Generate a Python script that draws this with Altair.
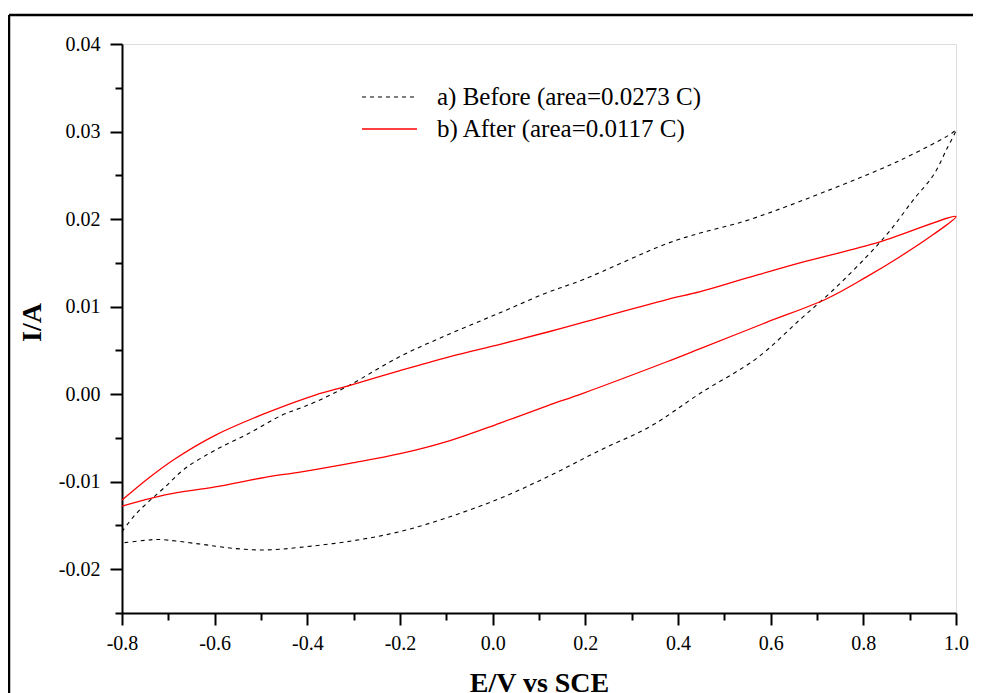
import altair as alt
import pandas as pd

# ---- data ----
before_E = [-0.80, -0.772, -0.743, -0.707, -0.664, -0.599, -0.527, -0.455, -0.416, -0.383,
            -0.31, -0.20, -0.092, 0.016, 0.113, 0.196, 0.376, 0.448, 0.552,
            0.735, 0.879, 0.991, 1.0,
            0.980, 0.951, 0.908, 0.858, 0.807, 0.735, 0.663, 0.570, 0.448,
            0.340, 0.232, 0.124, 0.016, -0.092, -0.20, -0.308, -0.416, -0.491, -0.563,
            -0.635, -0.722, -0.750, -0.80]
before_I = [-0.0157, -0.0138, -0.0123, -0.0106, -0.0085, -0.0064, -0.0045, -0.0024, -0.0016, -0.0009,
            0.0010, 0.0043, 0.0069, 0.0093, 0.0115, 0.0131, 0.0172, 0.0184, 0.0199,
            0.0235, 0.0267, 0.0298, 0.0302,
            0.0280, 0.0250, 0.0222, 0.0187, 0.0157, 0.0119, 0.0085, 0.0041, 0.0001,
            -0.0037, -0.0064, -0.0093, -0.0119, -0.0140, -0.0157, -0.0168, -0.0175, -0.0178, -0.0176,
            -0.0171, -0.0166, -0.0167, -0.0170]

after_E = [-0.80, -0.743, -0.686, -0.599, -0.491, -0.383, -0.308, -0.20, -0.092, 0.016,
           0.119, 0.195, 0.376, 0.448, 0.551, 0.663, 0.836, 1.0,
           0.950, 0.879, 0.807, 0.721, 0.591, 0.448, 0.376, 0.195, 0.119,
           0.016, -0.092, -0.20, -0.308, -0.416, -0.491, -0.599, -0.707, -0.80]
after_I = [-0.0121, -0.0096, -0.0074, -0.0047, -0.0022, -0.0001, 0.0010, 0.0027, 0.0043, 0.0057,
           0.0071, 0.0082, 0.0108, 0.0117, 0.0133, 0.0150, 0.0174, 0.0203,
           0.0182, 0.0157, 0.0134, 0.0109, 0.0082, 0.0052, 0.0037, 0.0001, -0.0013,
           -0.0033, -0.0053, -0.0068, -0.0079, -0.0089, -0.0095, -0.0106, -0.0115, -0.0128]

legend_labels = ["a) Before (area=0.0273 C)", "b) After (area=0.0117 C)"]

x_major = [-0.8, -0.6, -0.4, -0.2, 0.0, 0.2, 0.4, 0.6, 0.8, 1.0]
x_minor = [-0.7, -0.5, -0.3, -0.1, 0.1, 0.3, 0.5, 0.7, 0.9]
y_major = [-0.02, -0.01, 0.0, 0.01, 0.02, 0.03, 0.04]
y_minor = [-0.025, -0.015, -0.005, 0.005, 0.015, 0.025, 0.035]

df_before = pd.DataFrame({"E": before_E, "I": before_I, "k": range(len(before_E))})
df_after = pd.DataFrame({"E": after_E, "I": after_I, "k": range(len(after_E))})

FONT = "Liberation Serif"
W, H = 834, 569

xscale = alt.Scale(domain=[-0.8, 1.0], nice=False, zero=False)
yscale = alt.Scale(domain=[-0.025, 0.04], nice=False, zero=False)

common = dict(tickColor="black", domainColor="black", domainWidth=2, tickWidth=2,
              grid=False, labelFont=FONT, labelColor="black", titleFont=FONT,
              titleColor="black")

x_axis = alt.Axis(orient="bottom", values=x_major, tickSize=12, labelFontSize=20,
                  labelPadding=8, labelFlush=False,
                  labelExpr="(datum.value < -0.0001 ? '-' : '') + format(abs(datum.value), '.1f')",
                  title="E/V vs SCE", titleFontSize=28, titleFontWeight="bold",
                  titleY=78, titleBaseline="alphabetic", **common)
y_axis = alt.Axis(orient="left", values=y_major, tickSize=12, labelFontSize=20,
                  labelPadding=10, labelFlush=False, labelBaseline="middle",
                  labelExpr="(datum.value < -0.0001 ? '-' : '') + format(abs(datum.value), '.2f')",
                  title="I/A", titleFontSize=28, titleFontWeight="bold",
                  titleX=-90, titleY=278, titleAlign="center", titleBaseline="middle",
                  titleAngle=-90, **common)

x_minor_axis = alt.Axis(orient="bottom", values=x_minor, tickSize=7, labels=False,
                        domain=False, title=None, tickColor="black", tickWidth=2, grid=False)
y_minor_axis = alt.Axis(orient="left", values=y_minor, tickSize=7, labels=False,
                        domain=False, title=None, tickColor="black", tickWidth=2, grid=False)

before = alt.Chart(df_before).mark_line(color="black", strokeWidth=1.1, strokeDash=[4, 4],
                                        interpolate="catmull-rom").encode(
    x=alt.X("E:Q", scale=xscale, axis=x_axis),
    y=alt.Y("I:Q", scale=yscale, axis=y_axis),
    order="k:Q",
)
after = alt.Chart(df_after).mark_line(color="#ff0000", strokeWidth=1.3,
                                      interpolate="catmull-rom").encode(
    x=alt.X("E:Q", scale=xscale, axis=x_minor_axis),
    y=alt.Y("I:Q", scale=yscale, axis=y_minor_axis),
    order="k:Q",
)

one = pd.DataFrame({"a": [0]})
frame_left = alt.Chart(one).mark_rule(color="black", strokeWidth=2.5).encode(
    x=alt.value(-113), y=alt.value(-29), y2=alt.value(900))
frame_top = alt.Chart(one).mark_rule(color="black", strokeWidth=2.5).encode(
    x=alt.value(-113), x2=alt.value(1000), y=alt.value(-29))

leg_a_line = alt.Chart(one).mark_rule(color="black", strokeWidth=1.1, strokeDash=[4, 4]).encode(
    x=alt.value(240), x2=alt.value(294), y=alt.value(53))
leg_b_line = alt.Chart(one).mark_rule(color="#ff0000", strokeWidth=1.3).encode(
    x=alt.value(240), x2=alt.value(295), y=alt.value(85))
leg_a_text = alt.Chart(pd.DataFrame({"t": [legend_labels[0]]})).mark_text(
    font=FONT, fontSize=25, color="black", align="left", baseline="alphabetic").encode(
    text="t:N", x=alt.value(315), y=alt.value(61))
leg_b_text = alt.Chart(pd.DataFrame({"t": [legend_labels[1]]})).mark_text(
    font=FONT, fontSize=25, color="black", align="left", baseline="alphabetic").encode(
    text="t:N", x=alt.value(315), y=alt.value(93))

chart = alt.layer(
    before, after, frame_left, frame_top, leg_a_line, leg_b_line, leg_a_text, leg_b_text
).resolve_axis(x="independent", y="independent").properties(
    width=W, height=H,
    autosize=alt.AutoSizeParams(type="none"),
    padding={"left": 114, "top": 36, "right": 17, "bottom": 80},
).configure_view(stroke=None).configure(background="white")

chart.save("out.html", embed_options={"renderer": "svg", "actions": False})
